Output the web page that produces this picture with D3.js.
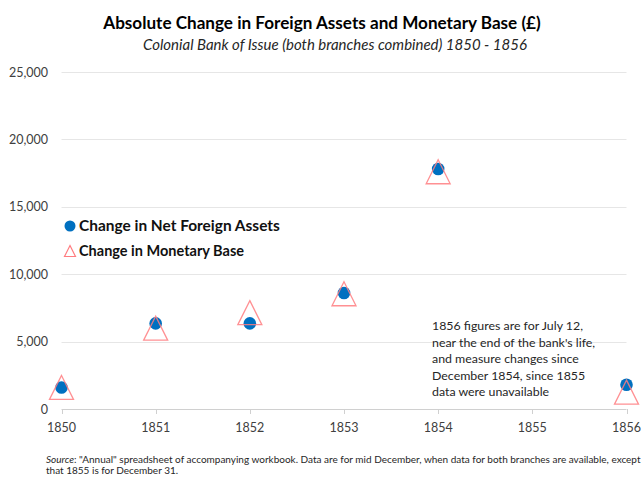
<!DOCTYPE html>
<html><head><meta charset="utf-8">
<script src="https://cdn.jsdelivr.net/npm/d3@7"></script>
<style>body{margin:0;background:#fff}svg{display:block}text{font-family:Lato,"Open Sans",sans-serif}</style>
</head><body><svg id="c" width="641" height="477"></svg>
<script>
const years = [1850, 1851, 1852, 1853, 1854, 1855, 1856];
const netForeignAssets = [1600, 6350, 6350, 8600, 17800, null, 1800];
const monetaryBase = [1600, 6000, 7150, 8550, 17600, null, 1250];
const yTicks = [0, 5000, 10000, 15000, 20000, 25000];
const seriesNames = ["Change in Net Foreign Assets", "Change in Monetary Base"];

const svg = d3.select("#c");
const x = d3.scalePoint().domain(years).range([61.5, 626.5]);
const y = d3.scaleLinear().domain([0, 25000]).range([409, 72]);

function fit(sel, w) {
  const n = sel.node(); const cur = n.getComputedTextLength();
  const fs = parseFloat(sel.attr("font-size"));
  sel.attr("font-size", (fs * w / cur).toFixed(2));
}

// title
fit(svg.append("text").attr("x", 322).attr("y", 29).attr("text-anchor", "middle")
  .attr("font-size", 17).attr("font-weight", "bold").attr("fill", "#000")
  .text("Absolute Change in Foreign Assets and Monetary Base (£)"), 438);
fit(svg.append("text").attr("x", 335).attr("y", 50).attr("text-anchor", "middle")
  .attr("font-size", 14).attr("font-style", "italic").attr("fill", "#262626")
  .text("Colonial Bank of Issue (both branches combined) 1850 - 1856"), 384);

// gridlines
svg.append("g").selectAll("line").data(yTicks).join("line")
  .attr("x1", x(1850)).attr("x2", x(1856))
  .attr("y1", d => Math.round(y(d)) + 0.5).attr("y2", d => Math.round(y(d)) + 0.5)
  .attr("stroke", d => d === 0 ? "#d0d0d0" : "#e6e6e6").attr("stroke-width", 1);

// y labels
svg.append("g").selectAll("text").data(yTicks).join("text")
  .attr("x", 48).attr("y", d => y(d) + 4.5).attr("text-anchor", "end")
  .attr("font-size", 12.5).attr("fill", "#404040")
  .text(d => d3.format(",")(d));

// x axis ticks & labels
const xg = svg.append("g");
xg.selectAll("line").data(years).join("line")
  .attr("x1", d => Math.round(x(d)) + 0.5).attr("x2", d => Math.round(x(d)) + 0.5)
  .attr("y1", 409).attr("y2", 414).attr("stroke", "#d0d0d0");
xg.selectAll("text").data(years).join("text")
  .attr("x", d => x(d)).attr("y", 432).attr("text-anchor", "middle")
  .attr("font-size", 12.5).attr("fill", "#404040").text(d => d);

// points
const pts = years.map((yr, i) => ({yr, a: netForeignAssets[i], b: monetaryBase[i]}));
svg.append("g").selectAll("circle").data(pts.filter(d => d.a != null)).join("circle")
  .attr("cx", d => x(d.yr)).attr("cy", d => y(d.a)).attr("r", 6.3).attr("fill", "#0070C0");
function triPath(cx, cy, s) { // bounding box centered, width s, height s
  return `M${cx},${cy - s/2}L${cx + s/2},${cy + s/2}L${cx - s/2},${cy + s/2}Z`;
}
svg.append("g").selectAll("path").data(pts.filter(d => d.b != null)).join("path")
  .attr("d", d => triPath(x(d.yr), y(d.b), 24))
  .attr("fill", "none").attr("stroke", "#FF7C80").attr("stroke-opacity", 0.85).attr("stroke-width", 1.3);

// legend
const lg = svg.append("g");
lg.append("circle").attr("cx", 70).attr("cy", 226).attr("r", 5.5).attr("fill", "#0070C0");
lg.append("path").attr("d", triPath(70, 251, 11)).attr("fill", "none").attr("stroke", "#FF7C80").attr("stroke-width", 1.2);
fit(lg.append("text").attr("x", 79).attr("y", 231).attr("font-size", 14).attr("font-weight", "bold")
  .attr("fill", "#111").text(seriesNames[0]), 201);
fit(lg.append("text").attr("x", 79).attr("y", 256).attr("font-size", 14).attr("font-weight", "bold")
  .attr("fill", "#111").text(seriesNames[1]), 165);

// annotation
const note = ["1856 figures are for July 12,", "near the end of the bank's life,", "and measure changes since", "December 1854, since 1855", "data were unavailable"];
const ng = svg.append("g");
const t0 = ng.append("text").attr("x", 432).attr("y", 330).attr("font-size", 13).attr("fill", "#262626").text(note[0]);
fit(t0, 151);
const nfs = t0.attr("font-size");
note.slice(1).forEach((s, i) => ng.append("text").attr("x", 432).attr("y", 330 + 16.6 * (i + 1))
  .attr("font-size", nfs).attr("fill", "#262626").text(s));

// source
const src = svg.append("text").attr("x", 46).attr("y", 463).attr("font-size", 10).attr("fill", "#262626");
src.append("tspan").attr("font-style", "italic").text("Source");
src.append("tspan").text(": \"Annual\" spreadsheet of accompanying workbook. Data are for mid December, when data for both branches are available, except");
svg.append("text").attr("x", 46).attr("y", 474).attr("font-size", 10).attr("fill", "#262626")
  .text("that 1855 is for December 31.");
</script></body></html>
